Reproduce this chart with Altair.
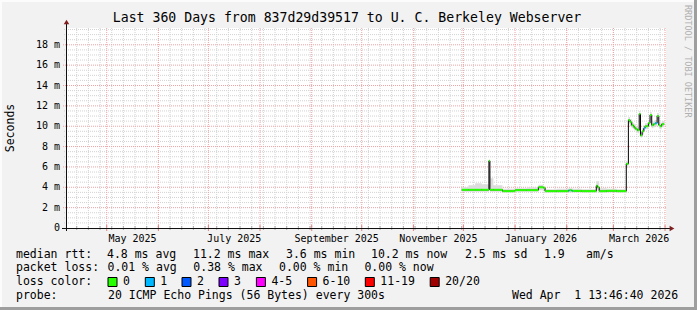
import altair as alt
import pandas as pd

# ---------------- data ----------------
step_start = [
    "2025-11-30T00:00", "2025-12-04T00:00", "2025-12-08T00:00", "2025-12-12T00:00",
    "2025-12-16T08:00", "2025-12-16T22:00", "2025-12-19T00:00", "2025-12-24T12:00",
    "2026-01-01T00:00", "2026-01-08T00:00", "2026-01-15T00:00", "2026-01-18T00:00",
    "2026-01-19T00:00", "2026-01-26T00:00", "2026-02-02T00:00", "2026-02-02T14:00",
    "2026-02-04T00:00", "2026-02-04T14:00", "2026-02-10T00:00", "2026-02-18T18:00",
    "2026-02-19T12:00", "2026-02-20T12:00", "2026-02-25T00:00", "2026-03-03T00:00",
    "2026-03-08T18:00", "2026-03-10T00:00", "2026-03-11T00:00", "2026-03-12T00:00",
    "2026-03-13T00:00", "2026-03-13T12:00", "2026-03-14T12:00", "2026-03-15T12:00",
    "2026-03-16T12:00", "2026-03-17T06:00", "2026-03-18T06:00", "2026-03-19T06:00",
    "2026-03-20T00:00", "2026-03-21T00:00", "2026-03-22T00:00", "2026-03-23T00:00",
    "2026-03-24T00:00", "2026-03-25T00:00", "2026-03-26T00:00", "2026-03-27T06:00",
    "2026-03-28T06:00", "2026-03-29T00:00", "2026-03-30T00:00",
]
median_ms = [
    3.75, 3.75, 3.75, 3.75,
    6.6, 3.75, 3.75, 3.62,
    3.72, 3.72, 4.0, 3.95,
    3.62, 3.62, 3.68, 3.70,
    3.66, 3.64, 3.62, 4.15,
    4.0, 3.62, 3.65, 3.62,
    6.3, 10.6, 10.4, 10.1,
    10.0, 9.85, 9.7, 9.6,
    11.2, 9.1, 9.5, 9.8,
    10.0, 10.0, 10.3, 11.1,
    10.1, 10.2, 10.3, 11.0,
    10.1, 10.0, 10.2,
]
loss_bin = [
    "0", "0", "0", "0",
    "0", "0", "0", "0",
    "0", "0", "0", "0",
    "0", "0", "1", "0",
    "1", "0", "0", "0",
    "0", "0", "0", "0",
    "0", "0", "0", "0",
    "0", "0", "0", "0",
    "0", "0", "0", "1",
    "0", "0", "0", "0",
    "0", "0", "1", "0",
    "0", "0", "0",
]
smoke_lo = [
    3.55, 3.55, 3.55, 3.55,
    3.75, 3.55, 3.55, 3.5,
    3.55, 3.55, 3.7, 3.7,
    3.5, 3.5, 3.5, 3.5,
    3.5, 3.5, 3.5, 3.8,
    3.7, 3.5, 3.5, 3.5,
    5.9, 10.2, 10.0, 9.8,
    9.7, 9.6, 9.4, 9.3,
    10.6, 8.9, 9.2, 9.5,
    9.7, 9.7, 10.0, 10.6,
    9.8, 9.9, 10.0, 10.6,
    9.8, 9.7, 9.9,
]
smoke_hi = [
    4.0, 4.2, 4.4, 4.3,
    6.6, 4.9, 4.2, 3.85,
    3.9, 4.0, 4.25, 4.1,
    3.8, 3.85, 3.9, 3.9,
    3.9, 3.85, 3.8, 4.6,
    4.6, 3.9, 3.85, 3.8,
    6.5, 10.9, 10.7, 10.4,
    10.3, 10.2, 10.0, 9.9,
    11.5, 9.4, 9.8, 10.1,
    10.3, 10.3, 10.6, 11.4,
    10.4, 10.5, 10.6, 11.3,
    10.4, 10.3, 10.5,
]
series_end = "2026-03-31T12:00"

loss_labels = ["0", "1", "2", "3", "4-5", "6-10", "11-19", "20/20"]
loss_colors = ["#26ff00", "#00b8ff", "#0059ff", "#7e00ff", "#ff00ff", "#ff5500", "#ff0000", "#a10000"]

month_labels = ["May 2025", "July 2025", "September 2025", "November 2025", "January 2026", "March 2026"]
month_label_dates = ["2025-05-16T12:00", "2025-07-16T12:00", "2025-09-16T00:00",
                     "2025-11-16T00:00", "2026-01-16T12:00", "2026-03-16T12:00"]

y_tick_values = [0, 2, 4, 6, 8, 10, 12, 14, 16, 18]
y_tick_labels = ["0\u00a0\u00a0", "2 m", "4 m", "6 m", "8 m", "10 m", "12 m", "14 m", "16 m", "18 m"]

title_text = "Last 360 Days from 837d29d39517 to U. C. Berkeley Webserver"
stats_row1 = ["median rtt:", "4.8 ms avg", "11.2 ms max", "3.6 ms min", "10.2 ms now", "2.5 ms sd", "1.9", "am/s"]
stats_row2 = ["packet loss:", "0.01 % avg", "0.38 % max", "0.00 % min", "0.00 % now"]
probe_row = ["probe:", "20 ICMP Echo Pings (56 Bytes) every 300s", "Wed Apr\u00a0\u00a01 13:46:40 2026"]

# ---------------- layout constants ----------------
W, H = 600, 200
LEFT, TOP = 66, 28
MONO = "DejaVu Sans Mono"
XDOM = [alt.DateTime(year=2025, month=4, date=6, hours=13, minutes=46, seconds=40),
        alt.DateTime(year=2026, month=4, date=1, hours=13, minutes=46, seconds=40)]
YMAX = 19.65

xs = alt.Scale(domain=XDOM)
ys = alt.Scale(domain=[0, YMAX], nice=False, zero=False)

# ---------------- tables ----------------
steps = pd.DataFrame({
    "start": pd.to_datetime(step_start),
    "median": median_ms,
    "loss": loss_bin,
    "lo": smoke_lo,
    "hi": smoke_hi,
})
steps["end"] = steps["start"].shift(-1)
steps.loc[steps.index[-1], "end"] = pd.to_datetime(series_end)

last = steps.iloc[-1]
line_df = pd.concat([
    steps[["start", "median", "lo", "hi"]],
    pd.DataFrame({"start": [pd.to_datetime(series_end)], "median": [last["median"]],
                  "lo": [last["lo"]], "hi": [last["hi"]]}),
], ignore_index=True)

weeks = pd.DataFrame({"d": pd.date_range("2025-04-13", "2026-03-29", freq="7D")})
months = pd.DataFrame({"d": pd.date_range("2025-05-01", "2026-04-01", freq="MS")})
ymin_df = pd.DataFrame({"v": [v / 2 for v in range(1, 40) if v % 4 != 0]})
ymaj_df = pd.DataFrame({"v": [v for v in range(2, 20, 2)]})

GRID_MINOR = "#d2d2d2"
GRID_MAJOR = "#eea4a6"

# ---------------- grid ----------------
vminor = alt.Chart(weeks).mark_rule(color=GRID_MINOR, strokeDash=[1, 1], strokeWidth=1).encode(
    x=alt.X("d:T", scale=xs, axis=None))
vmajor = alt.Chart(months).mark_rule(color=GRID_MAJOR, strokeDash=[1, 1], strokeWidth=1).encode(
    x=alt.X("d:T", scale=xs, axis=None))
hminor = alt.Chart(ymin_df).mark_rule(color=GRID_MINOR, strokeDash=[1, 1], strokeWidth=1).encode(
    y=alt.Y("v:Q", scale=ys, axis=None), x=alt.value(-2), x2=alt.value(W))
hmajor = alt.Chart(ymaj_df).mark_rule(color=GRID_MAJOR, strokeDash=[1, 1], strokeWidth=1).encode(
    y=alt.Y("v:Q", scale=ys, axis=None), x=alt.value(-3), x2=alt.value(W))

# axis tick marks
xtick_minor = alt.Chart(weeks).mark_rule(color="#a8a8a8", strokeWidth=1).encode(
    x=alt.X("d:T", scale=xs, axis=None), y=alt.value(H - 2), y2=alt.value(H + 2))
xtick_major = alt.Chart(months).mark_rule(color="#e08080", strokeWidth=1).encode(
    x=alt.X("d:T", scale=xs, axis=None), y=alt.value(H - 3), y2=alt.value(H + 3))

# ---------------- data marks ----------------
smoke = alt.Chart(line_df).mark_area(interpolate="step-after", color="#dcdcdc").encode(
    x=alt.X("start:T", scale=xs, axis=None),
    y=alt.Y("lo:Q", scale=ys, axis=None),
    y2="hi:Q",
)
black = alt.Chart(line_df).mark_line(interpolate="step-after", color="#000000", strokeWidth=1).encode(
    x=alt.X("start:T", scale=xs, axis=None),
    y=alt.Y("median:Q", scale=ys, axis=None),
)
colored = alt.Chart(steps).mark_rule(strokeWidth=2).encode(
    x=alt.X("start:T", scale=xs, axis=None),
    x2="end:T",
    y=alt.Y("median:Q", scale=ys, axis=None),
    color=alt.Color("loss:N", scale=alt.Scale(domain=loss_labels, range=loss_colors), legend=None),
)

# ---------------- axes ----------------
ytick_df = pd.DataFrame({"v": y_tick_values, "t": y_tick_labels})
ylabels = alt.Chart(ytick_df).mark_text(font=MONO, fontSize=10, align="right", baseline="middle",
                                         color="#000000").encode(
    y=alt.Y("v:Q", scale=ys, axis=None), x=alt.value(-6), text="t:N")

xlab_df = pd.DataFrame({"d": pd.to_datetime(month_label_dates), "t": month_labels})
xlabels = alt.Chart(xlab_df).mark_text(font=MONO, fontSize=10, align="center", baseline="middle",
                                        color="#000000").encode(
    x=alt.X("d:T", scale=xs, axis=None), y=alt.value(H + 10.5), text="t:N")

xaxis_line = alt.Chart(pd.DataFrame({"a": [0]})).mark_rule(color="#101010", strokeWidth=1).encode(
    x=alt.value(-4), x2=alt.value(W + 4), y=alt.value(H + 0.5))
yaxis_line = alt.Chart(pd.DataFrame({"a": [0]})).mark_rule(color="#101010", strokeWidth=1).encode(
    x=alt.value(0.5), y=alt.value(H + 3), y2=alt.value(-4))
arrow_x = alt.Chart(pd.DataFrame({"a": [0]})).mark_point(shape="triangle-right", filled=True,
                                                          color="#7f1f1f", size=30, opacity=1).encode(
    x=alt.value(W + 6), y=alt.value(H + 0.5))
arrow_y = alt.Chart(pd.DataFrame({"a": [0]})).mark_point(shape="triangle-up", filled=True,
                                                          color="#7f1f1f", size=30, opacity=1).encode(
    x=alt.value(0.5), y=alt.value(-6))

ytitle = alt.Chart(pd.DataFrame({"t": ["Seconds"]})).mark_text(
    font=MONO, fontSize=11.5, angle=270, align="center", baseline="middle", color="#000000").encode(
    x=alt.value(11 - LEFT), y=alt.value(128 - TOP), text="t:N")

title = alt.Chart(pd.DataFrame({"t": [title_text]})).mark_text(
    font=MONO, fontSize=13.2, align="center", baseline="middle", color="#000000").encode(
    x=alt.value(347 - LEFT), y=alt.value(18 - TOP), text="t:N")

watermark = alt.Chart(pd.DataFrame({"t": ["RRDTOOL / TOBI OETIKER"]})).mark_text(
    font=MONO, fontSize=8.5, angle=90, align="left", baseline="middle", color="#b0b0b0").encode(
    x=alt.value(688 - LEFT), y=alt.value(5 - TOP), text="t:N")

# ---------------- legend text ----------------
row1_x = [16, 107, 193, 286, 371, 465, 544, 586]
row2_x = [16, 107.5, 193.3, 279, 364.4]
probe_x = [16, 108, 512]
box_x = [108, 145.3, 182, 219, 256.4, 307.6, 365.3, 430.2]

leg_rows = []
for t, px in zip(stats_row1, row1_x):
    leg_rows.append({"t": t, "px": px - LEFT, "py": 255 - TOP})
for t, px in zip(stats_row2, row2_x):
    leg_rows.append({"t": t, "px": px - LEFT, "py": 268 - TOP})
leg_rows.append({"t": "loss color:", "px": 16 - LEFT, "py": 282 - TOP})
for t, bx in zip(loss_labels, box_x):
    leg_rows.append({"t": t, "px": bx + 15 - LEFT, "py": 282 - TOP})
for t, px in zip(probe_row, probe_x):
    leg_rows.append({"t": t, "px": px - LEFT, "py": 296 - TOP})
leg_df = pd.DataFrame(leg_rows)

legend_text = alt.Chart(leg_df).mark_text(font=MONO, fontSize=11.5, align="left", baseline="middle",
                                           color="#000000").encode(
    x=alt.X("px:Q", scale=None, axis=None), y=alt.Y("py:Q", scale=None, axis=None), text="t:N")

box_df = pd.DataFrame({
    "x1": [b - LEFT for b in box_x], "x2": [b + 9 - LEFT for b in box_x],
    "y1": [277.5 - TOP] * len(box_x), "y2": [286.5 - TOP] * len(box_x),
    "c": loss_colors,
})
boxes = alt.Chart(box_df).mark_rect(stroke="#000000", strokeWidth=1).encode(
    x=alt.X("x1:Q", scale=None, axis=None), x2="x2:Q",
    y=alt.Y("y1:Q", scale=None, axis=None), y2="y2:Q",
    color=alt.Color("c:N", scale=None, legend=None))

# ---------------- frame ----------------
frame_df = pd.DataFrame({
    "x1": [-LEFT, -LEFT, -LEFT, 694 - LEFT],
    "x2": [697 - LEFT, 2 - LEFT, 697 - LEFT, 697 - LEFT],
    "y1": [-TOP, -TOP, 307 - TOP, -TOP],
    "y2": [2 - TOP, 310 - TOP, 310 - TOP, 310 - TOP],
    "c": ["#fcfcfc", "#fcfcfc", "#9e9e9e", "#9e9e9e"],
})
frame = alt.Chart(frame_df).mark_rect().encode(
    x=alt.X("x1:Q", scale=None, axis=None), x2="x2:Q",
    y=alt.Y("y1:Q", scale=None, axis=None), y2="y2:Q",
    color=alt.Color("c:N", scale=None, legend=None))

chart = alt.layer(
    vminor, hminor, vmajor, hmajor,
    smoke, black, colored,
    xtick_minor, xtick_major,
    xaxis_line, yaxis_line, arrow_x, arrow_y,
    ylabels, xlabels, ytitle, title, watermark,
    legend_text, boxes, frame,
).resolve_scale(x="independent", y="independent").properties(
    width=W, height=H,
    padding={"left": LEFT, "top": TOP, "right": 697 - LEFT - W, "bottom": 310 - TOP - H},
    autosize=alt.AutoSizeParams(type="none"),
    background="#f2f2f2",
).configure_view(fill="#ffffff", strokeWidth=0)

chart.save("out.html", embed_options={"renderer": "svg", "actions": False})
